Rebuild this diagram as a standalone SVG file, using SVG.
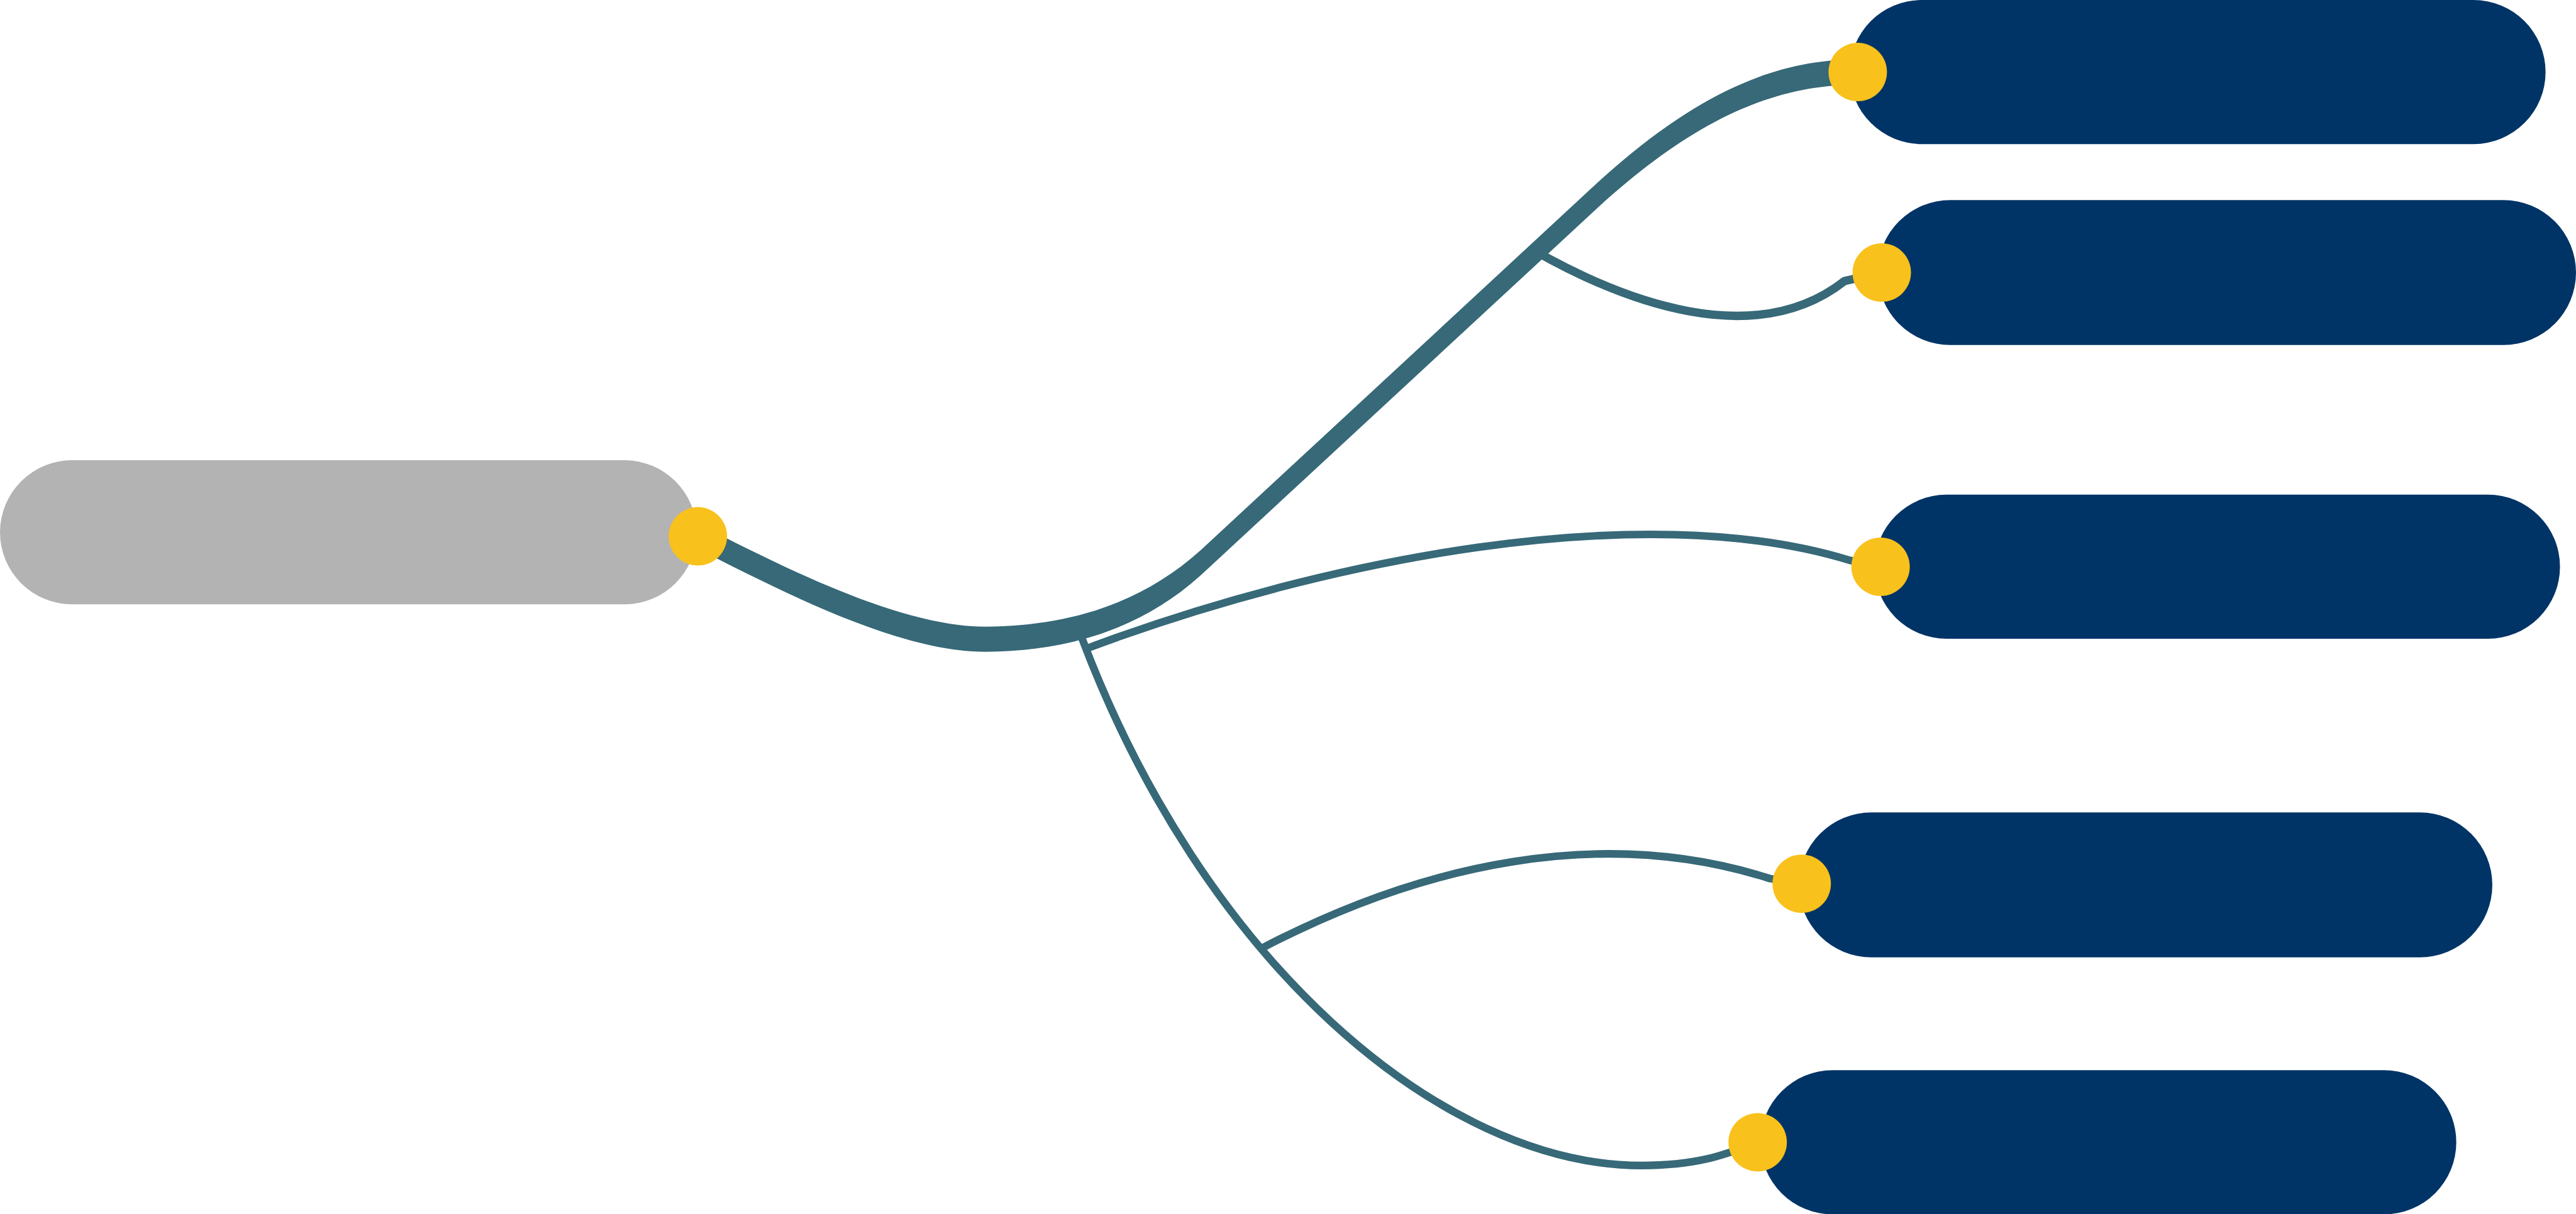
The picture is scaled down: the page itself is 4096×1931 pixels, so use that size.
<svg xmlns="http://www.w3.org/2000/svg" width="4096" height="1931" viewBox="0 0 4096 1931">
<style>
.link{fill:none;stroke:#376978;stroke-linecap:butt;stroke-linejoin:round}
.ribbon{fill:#376978;stroke:none}
.mid{stroke-width:21}
.thin{stroke-width:19}
.pill{fill:#003466}
.root{fill:#B3B3B3}
.dot{fill:#F9C11C}
</style>
<rect width="4096" height="1931" fill="#FFFFFF"/>
<g transform="scale(0.636618)">
<g id="connectors">
<path class="ribbon" d="M1743 1308.5 C1950 1413.5 2250 1568.5 2465 1565.5 C2650 1563.5 2840 1518.5 3000 1373.5 L3990 456.5 C4250 218.5 4450 148.5 4640 148.5 L4640 211.5 C4450 211.5 4250 281.5 3990 519.5 L3000 1436.5 C2840 1581.5 2650 1626.5 2465 1628.5 C2250 1631.5 1950 1476.5 1743 1371.5 Z"/>
<path class="link mid" d="M3830 625 C4050 750 4380 880 4607 702 L4700 681"/>
<path class="link thin" d="M2715 1620 C3300 1400 4100 1240 4620 1400 L4697 1416"/>
<path class="link thin" d="M2695 1575 C3000 2400 3600 2912 4100 2912 C4250 2912 4320 2880 4390 2854"/>
<path class="link thin" d="M3150 2370 C3550 2160 4000 2060 4420 2195 L4500 2208"/>
</g>
<g id="node-root">
<rect class="root" x="0" y="1150" width="1740" height="360" rx="180" ry="180"/>
<circle class="dot" cx="1743" cy="1340" r="73"/>
</g>
<g id="node-1">
<rect class="pill" x="4620" y="0" width="1738" height="360" rx="180" ry="180"/>
<circle class="dot" cx="4640" cy="180" r="73"/>
</g>
<g id="node-2">
<rect class="pill" x="4690" y="500" width="1744" height="362" rx="181" ry="181"/>
<circle class="dot" cx="4700" cy="681" r="73"/>
</g>
<g id="node-3">
<rect class="pill" x="4682" y="1236" width="1712" height="360" rx="180" ry="180"/>
<circle class="dot" cx="4697" cy="1416" r="73"/>
</g>
<g id="node-4">
<rect class="pill" x="4493" y="2030" width="1732" height="362" rx="181" ry="181"/>
<circle class="dot" cx="4500" cy="2208" r="73"/>
</g>
<g id="node-5">
<rect class="pill" x="4397" y="2674" width="1738" height="360" rx="180" ry="180"/>
<circle class="dot" cx="4390" cy="2854" r="73"/>
</g>
</g>
</svg>
